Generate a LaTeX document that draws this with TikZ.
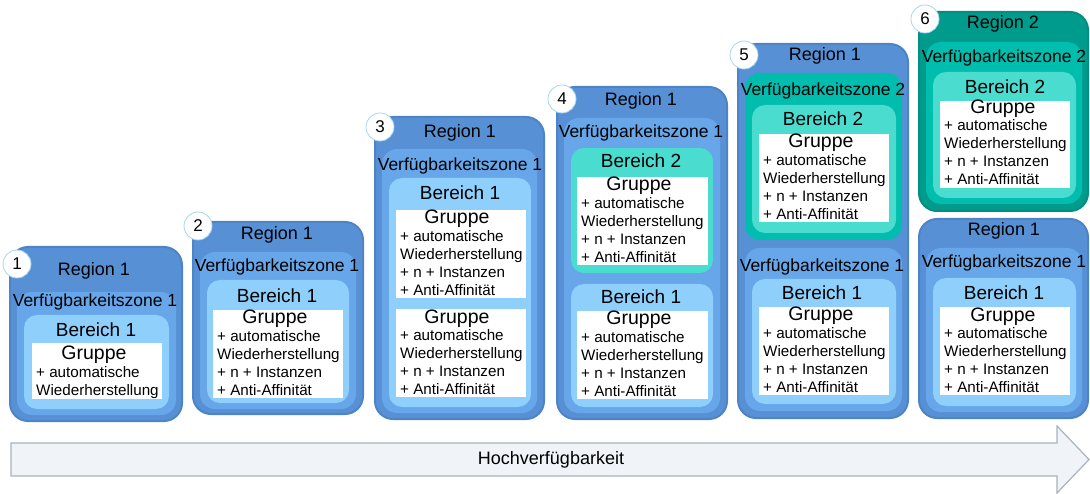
\documentclass[tikz,border=0pt]{standalone}
\usepackage{fontspec}
\setmainfont{Liberation Sans}
\usetikzlibrary{positioning,fit}
\definecolor{regfill}{HTML}{5790D5}
\definecolor{regline}{HTML}{4D84C6}
\definecolor{zonefill}{HTML}{66A6E9}
\definecolor{areafill}{HTML}{8ECFFB}
\definecolor{tregfill}{HTML}{009B8C}
\definecolor{tregline}{HTML}{008F81}
\definecolor{tzonefill}{HTML}{00BDAD}
\definecolor{tareafill}{HTML}{4ADCCF}
\definecolor{numline}{HTML}{A6D5F2}
\definecolor{arrowfill}{HTML}{F0F4F8}
\definecolor{arrowline}{HTML}{A9B3BB}

\begin{document}
\begin{tikzpicture}[x=1pt,y=-1pt,
  region/.style={inner sep=0pt,rounded corners=18pt,fill=regfill,draw=regline,line width=2pt},
  tregion/.style={region,fill=tregfill,draw=tregline},
  zone/.style={inner sep=0pt,rounded corners=15pt,fill=zonefill},
  tzone/.style={zone,fill=tzonefill},
  area/.style={inner sep=0pt,rounded corners=13pt,fill=areafill},
  tarea/.style={area,fill=tareafill},
  grp/.style={inner sep=0pt,fill=white},
  num/.style={circle,draw=numline,fill=white,line width=.8pt,minimum size=28pt,inner sep=0pt,
    font=\fontsize{17}{17}\selectfont},
  rtitle/.style={inner sep=0pt,font=\fontsize{18}{20}\selectfont},
  ztitle/.style={inner sep=0pt,font=\fontsize{17.5}{20}\selectfont},
  atitle/.style={inner sep=0pt,font=\fontsize{19}{20}\selectfont},
  gtitle/.style={inner sep=0pt,font=\fontsize{19.5}{20}\selectfont},
  props/.style={anchor=north west,inner sep=0pt,align=left,font=\fontsize{15.2}{18}\selectfont},
  hvarrow/.style={fill=arrowfill,draw=arrowline,line width=1.2pt,line join=miter}
]
\useasboundingbox (0,0) rectangle (1090,494);

% stage 1
\node[region,fit={(10,247) (182,421)}] (r1) {};
\node[zone,fit={(17,292) (176,415)}] (z1) {};
\node[area,fit={(24,315) (169,409)}] (b1) {};
\node[grp,fit={(32,343) (162,399)}] (g1) {};
\node[rtitle] (r1t) at (94,271) {Region 1};
\node[ztitle] (z1t) at (95,302) {Verfügbarkeitszone 1};
\node[atitle] (b1t) at (96,330) {Bereich 1};
\node[gtitle] (g1t) at (94,355) {Gruppe};
\node[props] (g1p) at (36,366.5) {+ automatische\\Wiederherstellung};

% stage 2
\node[region,fit={(193,222) (363,414)}] (r2) {};
\node[zone,fit={(200,252) (356,409)}] (z2) {};
\node[area,fit={(207,280) (349,403)}] (b2) {};
\node[grp,fit={(213,310) (343,398)}] (g2) {};
\node[rtitle] (r2t) at (277,235) {Region 1};
\node[ztitle] (z2t) at (277,267) {Verfügbarkeitszone 1};
\node[atitle] (b2t) at (277,296) {Bereich 1};
\node[gtitle] (g2t) at (275,319) {Gruppe};
\node[props] (g2p) at (217,330) {+ automatische\\Wiederherstellung\\+ n + Instanzen\\+ Anti-Affinität};

% stage 3
\node[region,fit={(375,117) (544,419)}] (r3) {};
\node[zone,fit={(382,149) (537,413)}] (z3) {};
\node[area,fit={(389,178) (531,407)}] (b3) {};
\node[grp,fit={(396,210) (526,298)}] (g3a) {};
\node[grp,fit={(396,309) (526,397)}] (g3b) {};
\node[rtitle] (r3t) at (460,133) {Region 1};
\node[ztitle] (z3t) at (460,166) {Verfügbarkeitszone 1};
\node[atitle] (b3t) at (460,193) {Bereich 1};
\node[gtitle] (g3at) at (457,219) {Gruppe};
\node[props] (g3ap) at (400,230) {+ automatische\\Wiederherstellung\\+ n + Instanzen\\+ Anti-Affinität};
\node[gtitle] (g3bt) at (457,319) {Gruppe};
\node[props] (g3bp) at (400,329) {+ automatische\\Wiederherstellung\\+ n + Instanzen\\+ Anti-Affinität};

% stage 4
\node[region,fit={(557,87) (727,419)}] (r4) {};
\node[zone,fit={(564,118) (720,413)}] (z4) {};
\node[tarea,fit={(571,148) (713,273)}] (b4a) {};
\node[area,fit={(571,284) (713,407)}] (b4b) {};
\node[grp,fit={(577,177) (708,265)}] (g4a) {};
\node[grp,fit={(577,311) (708,399)}] (g4b) {};
\node[rtitle] (r4t) at (641,101) {Region 1};
\node[ztitle] (z4t) at (641,133) {Verfügbarkeitszone 1};
\node[atitle] (b4at) at (641,161) {Bereich 2};
\node[gtitle] (g4at) at (639,186) {Gruppe};
\node[props] (g4ap) at (581,197) {+ automatische\\Wiederherstellung\\+ n + Instanzen\\+ Anti-Affinität};
\node[atitle] (b4bt) at (641,297) {Bereich 1};
\node[gtitle] (g4bt) at (639,320) {Gruppe};
\node[props] (g4bp) at (581,331) {+ automatische\\Wiederherstellung\\+ n + Instanzen\\+ Anti-Affinität};

% stage 5
\node[region,fit={(738,44) (908,418)}] (r5) {};
\node[tzone,fit={(745,73) (902,240)}] (z5a) {};
\node[tarea,fit={(752,105) (896,233)}] (b5a) {};
\node[grp,fit={(759,134) (889,222)}] (g5a) {};
\node[zone,fit={(745,248) (902,411)}] (z5b) {};
\node[area,fit={(752,279) (896,404)}] (b5b) {};
\node[grp,fit={(759,307) (889,395)}] (g5b) {};
\node[rtitle] (r5t) at (825,56) {Region 1};
\node[ztitle] (z5at) at (823,91) {Verfügbarkeitszone 2};
\node[atitle] (b5at) at (823,119) {Bereich 2};
\node[gtitle] (g5at) at (821,143) {Gruppe};
\node[props] (g5ap) at (763,154) {+ automatische\\Wiederherstellung\\+ n + Instanzen\\+ Anti-Affinität};
\node[ztitle] (z5bt) at (822,267) {Verfügbarkeitszone 1};
\node[atitle] (b5bt) at (822,293) {Bereich 1};
\node[gtitle] (g5bt) at (821,316) {Gruppe};
\node[props] (g5bp) at (763,327) {+ automatische\\Wiederherstellung\\+ n + Instanzen\\+ Anti-Affinität};

% stage 6
\node[tregion,fit={(919,12) (1088,211)}] (r6a) {};
\node[tzone,fit={(926,42) (1082,204)}] (z6a) {};
\node[tarea,fit={(933,72) (1076,198)}] (b6a) {};
\node[grp,fit={(940,101) (1070,188)}] (g6a) {};
\node[region,fit={(919,219) (1088,418)}] (r6b) {};
\node[zone,fit={(926,248) (1082,412)}] (z6b) {};
\node[area,fit={(933,278) (1076,406)}] (b6b) {};
\node[grp,fit={(940,307) (1070,395)}] (g6b) {};
\node[rtitle] (r6at) at (1003,24) {Region 2};
\node[ztitle] (z6at) at (1004,58) {Verfügbarkeitszone 2};
\node[atitle] (b6at) at (1005,87) {Bereich 2};
\node[gtitle] (g6at) at (1003,109) {Gruppe};
\node[props] (g6ap) at (944,119) {+ automatische\\Wiederherstellung\\+ n + Instanzen\\+ Anti-Affinität};
\node[rtitle] (r6bt) at (1004,231) {Region 1};
\node[ztitle] (z6bt) at (1004,263) {Verfügbarkeitszone 1};
\node[atitle] (b6bt) at (1004,293) {Bereich 1};
\node[gtitle] (g6bt) at (1003,317) {Gruppe};
\node[props] (g6bp) at (944,327) {+ automatische\\Wiederherstellung\\+ n + Instanzen\\+ Anti-Affinität};

% step numbers
\node[num] (n1) at (17,264) {1};
\node[num] (n2) at (198,226) {2};
\node[num] (n3) at (380,127) {3};
\node[num] (n4) at (562,99) {4};
\node[num] (n5) at (744,55) {5};
\node[num] (n6) at (925,19) {6};

% availability arrow
\draw[hvarrow] (11,443) -- (1057,443) -- (1057,426) -- (1089,459.5) -- (1057,493) -- (1057,476) -- (11,476) -- cycle;
\node[font=\fontsize{18}{20}\selectfont] (hv) at (551,460) {Hochverfügbarkeit};
\end{tikzpicture}
\end{document}
